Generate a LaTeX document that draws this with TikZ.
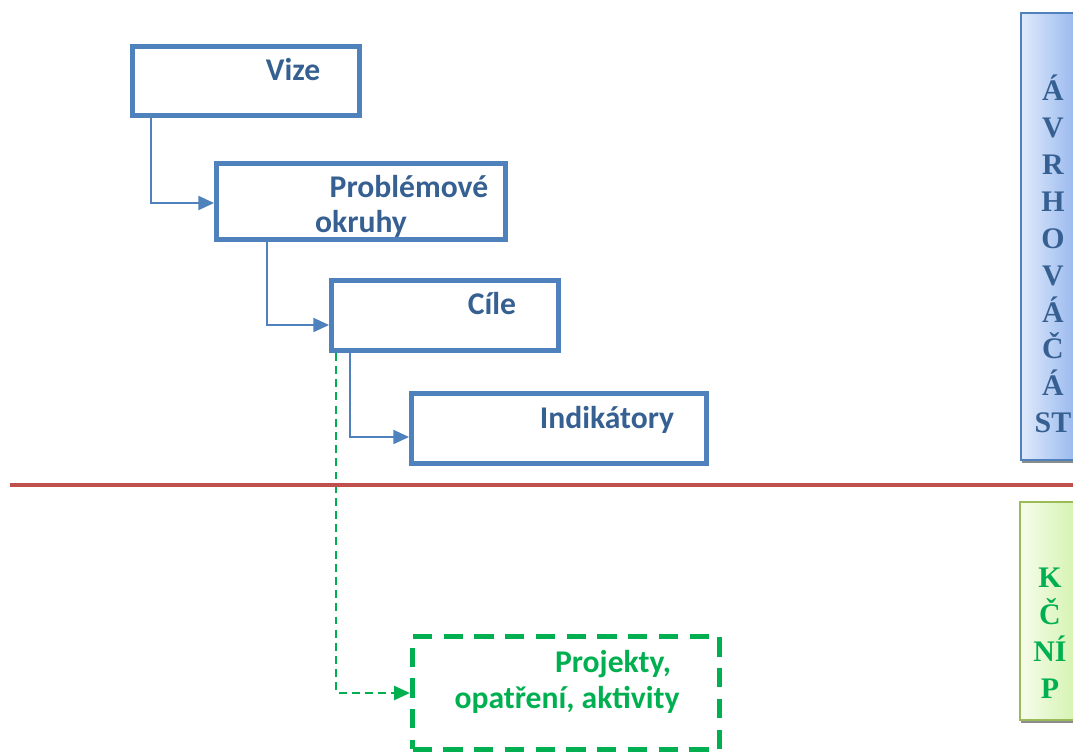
\documentclass[tikz,border=0pt]{standalone}
\usepackage{fontspec}
\setmainfont{Carlito}
\newfontfamily\panelfont{Liberation Serif}
\usetikzlibrary{positioning,calc}
\usetikzlibrary{arrows.meta,shadows}
\definecolor{PlanBlue}{RGB}{79,129,189}
\definecolor{PlanText}{RGB}{54,96,146}
\definecolor{PlanGreen}{RGB}{0,176,80}
\definecolor{PlanRed}{RGB}{192,80,77}
\definecolor{PlanOlive}{RGB}{155,187,89}
\tikzset{
	stage/.style={draw=PlanBlue,line width=2.8pt,inner sep=0pt},
	stagetxt/.style={text=PlanText,font=\bfseries\fontsize{18}{21}\selectfont,inner sep=0pt,anchor=base},
	projbox/.style={draw=PlanGreen,line width=3pt,dash pattern=on 11pt off 6.5pt,inner sep=0pt},
	projtxt/.style={text=PlanGreen,font=\bfseries\fontsize{18}{21}\selectfont,inner sep=0pt,anchor=base},
	link/.style={draw=PlanBlue,line width=1.2pt,-{Triangle[length=9pt,width=8pt]}},
	glink/.style={draw=PlanGreen,line width=1.2pt,dash pattern=on 4.5pt off 3pt,-{Triangle[length=9pt,width=8pt]}},
	divider/.style={draw=PlanRed,line width=2.2pt},
	panel/.style={line width=1.2pt,minimum width=1.28cm,inner sep=0pt,
		drop shadow={shadow xshift=0.6pt,shadow yshift=-1.6pt,fill=black!45,opacity=1}},
	paneltxt/.style={align=center,font=\panelfont\bfseries\fontsize{17}{21}\selectfont,inner sep=0pt},
}
\begin{document}
\begin{tikzpicture}[x=0.02cm,y=-0.02cm]
	\useasboundingbox (0,0) rectangle (1073,754);
	\clip (0,0) rectangle (1073,754);
	\node[stagetxt] (vizeT) at (293,80) {Vize};
	\node[stagetxt] (problT) at (409,197) {Problémové};
	\node[stagetxt] (okruhT) at (361,232) {okruhy};
	\node[stagetxt] (cileT) at (492,314) {Cíle};
	\node[stagetxt] (indikT) at (607,428) {Indikátory};
	\node[projtxt] (projT) at (613,672) {Projekty,};
	\node[projtxt] (opatT) at (567,708) {opatření, aktivity};
	\node[stage,minimum width=4.54cm,minimum height=1.38cm] (vize) at (246,81) {};
	\node[stage,minimum width=5.78cm,minimum height=1.52cm] (probl) at (361,201.5) {};
	\node[stage,minimum width=4.54cm,minimum height=1.40cm] (cile) at (445,315.5) {};
	\node[stage,minimum width=5.90cm,minimum height=1.40cm] (indik) at (559,428.5) {};
	\node[projbox,minimum width=6.14cm,minimum height=2.26cm] (proj) at (566,693) {};
	\draw[link] ($(vize.south west)+(21,0)$) |- ($(probl.west)+(0,1.5)$);
	\draw[link] ($(probl.south west)+(53,0)$) |- ($(cile.west)+(0,9.5)$);
	\draw[link] ($(cile.south west)+(21,0)$) |- ($(indik.west)+(0,8.5)$);
	\draw[glink] ($(cile.south west)+(7,0)$) |- (proj.west);
	\coordinate (lineL) at (10,485);
	\coordinate (lineR) at (1073,485);
	\draw[divider] (lineL) -- (lineR);
	\node[panel,draw=PlanBlue,left color={rgb,255:red,224;green,234;blue,251},right color={rgb,255:red,140;green,176;blue,236},minimum height=8.94cm] (navrh) at (1053,236.5) {};
	\node[paneltxt,text=PlanText] (navrhT) at (1053,254) {Á\\V\\R\\H\\O\\V\\Á\\Č\\Á\\ST};
	\node[panel,draw=PlanOlive,left color={rgb,255:red,246;green,252;blue,236},right color={rgb,255:red,208;green,242;blue,168},minimum height=4.36cm] (prov) at (1052,611) {};
	\node[paneltxt,text=PlanGreen] (provT) at (1050,633) {K\\Č\\NÍ\\P};
\end{tikzpicture}
\end{document}
